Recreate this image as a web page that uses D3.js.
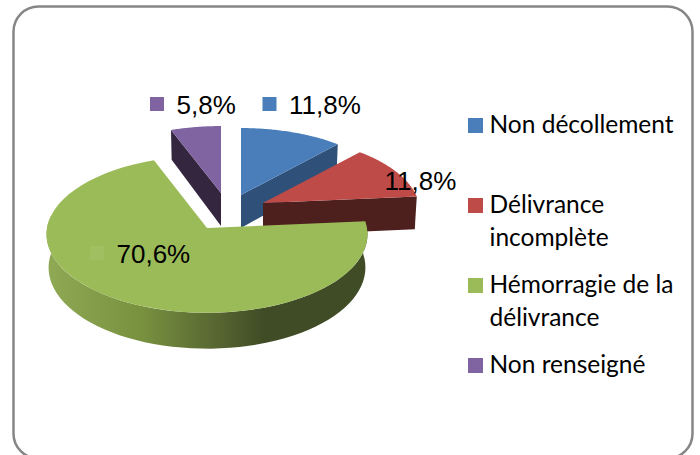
<!DOCTYPE html>
<html>
<head>
<meta charset="utf-8">
<script src="https://cdn.jsdelivr.net/npm/d3@7"></script>
<style>
    html, body { margin: 0; padding: 0; background: #fff; }
    svg { display: block; }
</style>
</head>
<body>
<div id="chart"></div>
<script>
const categories = ["Non décollement", "Délivrance incomplète", "Hémorragie de la délivrance", "Non renseigné"];
const values = [11.8, 11.8, 70.6, 5.8];
const valueLabels = ["11,8%", "11,8%", "70,6%", "5,8%"];
const legendLines = [["Non décollement"], ["Délivrance", "incomplète"], ["Hémorragie de la", "délivrance"], ["Non renseigné"]];

// office chart colours: top face and dark side face
const topColors = ["#4a7ebb", "#be4b48", "#9bbb59", "#8064a2"];
const sideColors = ["#2f5078", "#4d1f1d", "#6a8038", "#35263f"];

const width = 700;
const height = 455;

// each slice is pulled out of the pie by hand, so each has its own tip
const tips = [[241, 195], [263, 203], [207, 228], [221, 193]];
const radiusX = [156, 156, 160, 156];
const radiusY = [75, 75, 78, 75];
const perspective = [0.12, 0.12, 0.08, 0.12]; // far side of the disc gets a bit smaller
const depth = 33;
const bottomShrink = 0.987;

const labelPos = [[262.5, 114], [358, 190], [90, 263], [150, 114]];
const legendBaselines = [133, 213, 293, 373];

const svg = d3.select("#chart")
    .append("svg")
        .attr("width", width)
        .attr("height", height);

// frame
svg.append("rect")
    .attr("x", 13.5)
    .attr("y", 6.5)
    .attr("width", 679)
    .attr("height", 452)
    .attr("rx", 25)
    .attr("fill", "#fff")
    .attr("stroke", "#868686")
    .attr("stroke-width", 2.5);

const defs = svg.append("defs");
const rimGradient = defs.append("linearGradient")
    .attr("id", "rim")
    .attr("gradientUnits", "userSpaceOnUse")
    .attr("x1", 46).attr("x2", 367)
    .attr("y1", 0).attr("y2", 0);
[[0, "#8fa955"], [0.3, "#78913f"], [0.51, "#5a6a33"], [0.68, "#404c25"], [1, "#404c25"]].forEach(s => {
    rimGradient.append("stop").attr("offset", s[0]).attr("stop-color", s[1]);
});

const pie = d3.pie().sort(null).value(d => d);
const arcs = pie(values);

// point on the slice's rim, angle is clockwise from 12 o'clock like d3.pie
function project(i, angle, bottom) {
    const u = Math.sin(angle);
    const v = Math.cos(angle);
    const s = 1 / (1 + perspective[i] * v);
    const k = bottom ? bottomShrink : 1;
    return [
        tips[i][0] + u * radiusX[i] * s * k,
        tips[i][1] - v * radiusY[i] * s + (bottom ? depth * s : 0)
    ];
}

function rimPoints(i, a0, a1, bottom) {
    const n = 60;
    return d3.range(n + 1).map(j => project(i, a0 + (a1 - a0) * j / n, bottom));
}

const line = d3.line();

function topFace(i) {
    return line([tips[i], ...rimPoints(i, arcs[i].startAngle, arcs[i].endAngle, false)]) + "Z";
}

// the flat cut face between the tip and one edge of the slice
function cutFace(i, angle) {
    const tip = tips[i];
    const tipBottom = [tip[0], tip[1] + depth];
    return line([tip, project(i, angle, false), project(i, angle, true), tipBottom]) + "Z";
}

// back slices first, green goes over everything
const drawOrder = [3, 0, 1, 2];
drawOrder.forEach(i => {
    if (i === 2) {
        const a0 = arcs[i].startAngle;
        const a1 = Math.PI * 1.55;
        const outer = rimPoints(i, a0, a1, false);
        const inner = rimPoints(i, a0, a1, true).reverse();
        svg.append("path")
            .attr("d", line([...outer, ...inner]) + "Z")
            .attr("fill", "url(#rim)");
    } else {
        // blue and red show their right hand cut, purple its left hand one
        const a = i === 3 ? arcs[i].startAngle : arcs[i].endAngle;
        svg.append("path")
            .attr("d", cutFace(i, a))
            .attr("fill", sideColors[i]);
    }
    svg.append("path")
        .attr("d", topFace(i))
        .attr("fill", topColors[i]);
});

// data labels with their little colour key
valueLabels.forEach((label, i) => {
    const [x, y] = labelPos[i];
    svg.append("rect")
        .attr("x", x)
        .attr("y", y - 17)
        .attr("width", 14)
        .attr("height", 14)
        .attr("fill", i === 2 ? "#a0bf60" : topColors[i]);
    svg.append("text")
        .attr("x", x + 26.5)
        .attr("y", y)
        .attr("font-family", "Liberation Sans, Arial, sans-serif")
        .attr("font-size", 26)
        .attr("fill", "#000")
        .text(label);
});

// legend
categories.forEach((name, i) => {
    svg.append("rect")
        .attr("x", 468)
        .attr("y", legendBaselines[i] - 15)
        .attr("width", 15)
        .attr("height", 15)
        .attr("fill", topColors[i]);
    legendLines[i].forEach((txt, j) => {
        svg.append("text")
            .attr("x", 489.5)
            .attr("y", legendBaselines[i] + j * 32.5)
            .attr("font-family", "Lato, sans-serif")
            .attr("font-size", 24.5)
            .attr("fill", "#000")
            .text(txt);
    });
});
</script>
</body>
</html>
